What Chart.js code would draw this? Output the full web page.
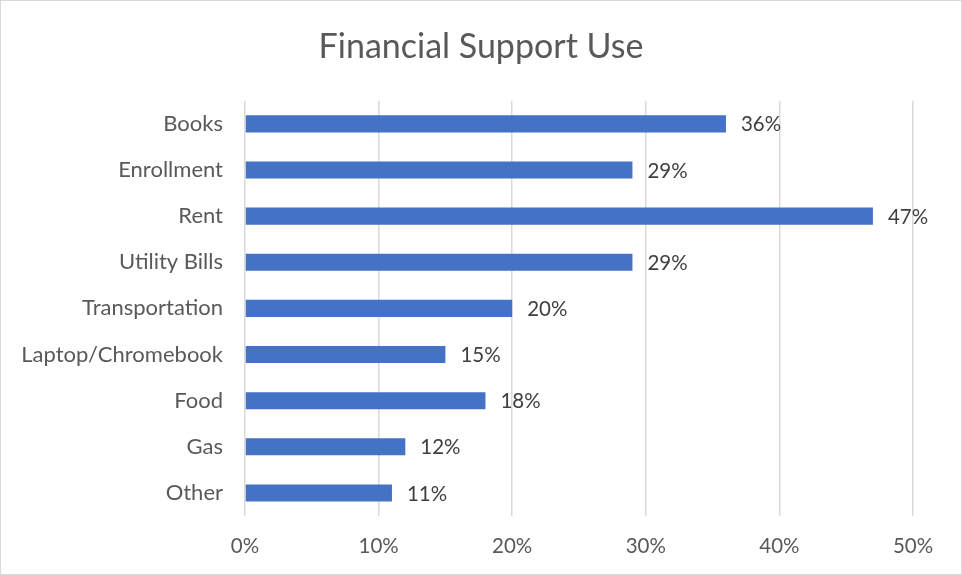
<!DOCTYPE html>
<html>
<head>
<meta charset="utf-8">
<script src="https://cdn.jsdelivr.net/npm/chart.js@4.4.1/dist/chart.umd.min.js"></script>
<style>
    html, body { margin: 0; padding: 0; background: #fff; }
    #wrap { position: relative; width: 962px; height: 575px; box-sizing: border-box; border: 1px solid #d9d9d9; }
</style>
</head>
<body>
<div id="wrap"><canvas id="supportChart"></canvas></div>
<script>
const categories = ["Books", "Enrollment", "Rent", "Utility Bills", "Transportation", "Laptop/Chromebook", "Food", "Gas", "Other"];
const shares = [36, 29, 47, 29, 20, 15, 18, 12, 11];
const xTicks = [0, 10, 20, 30, 40, 50];

const FONT = "Lato, 'Noto Sans', sans-serif";

// labels to the right of each bar
const barLabels = {
    id: "barLabels",
    afterDatasetsDraw(chart) {
        const ctx = chart.ctx;
        const meta = chart.getDatasetMeta(0);
        ctx.save();
        ctx.font = "20.5px " + FONT;
        ctx.fillStyle = "#404040";
        ctx.textBaseline = "middle";
        ctx.textAlign = "left";
        meta.data.forEach((bar, i) => {
            ctx.fillText(shares[i] + "%", bar.x + 15, bar.y + 1);
        });
        ctx.restore();
    }
};

const ctx = document.getElementById("supportChart").getContext("2d");

new Chart(ctx, {
    type: "bar",
    data: {
        labels: categories,
        datasets: [{
            label: "Share",
            data: shares,
            backgroundColor: "#4472C4",
            borderWidth: 0,
            barPercentage: 0.74,
            categoryPercentage: 0.5,
        }]
    },
    options: {
        indexAxis: "y",
        responsive: true,
        maintainAspectRatio: false,
        animation: false,
        layout: { padding: 0 },
        plugins: {
            legend: { display: false },
            tooltip: { enabled: false },
            title: {
                display: true,
                text: "Financial Support Use",
                color: "#595959",
                font: { family: FONT, size: 34, weight: "normal" },
                padding: { top: 26, bottom: 33 },
            },
        },
        scales: {
            x: {
                min: 0,
                max: 50,
                afterBuildTicks: (axis) => { axis.ticks = xTicks.map(v => ({ value: v })); },
                afterFit: (axis) => { axis.height = 58; },
                grid: { color: "#d9d9d9", lineWidth: 1.5, drawTicks: false },
                border: { display: false },
                ticks: {
                    color: "#595959",
                    padding: 18,
                    font: { family: FONT, size: 20.5 },
                    callback: (v) => v + "%",
                },
            },
            y: {
                afterFit: (axis) => { axis.width = 244; },
                grid: { display: false, drawTicks: false },
                border: { display: false },
                ticks: {
                    color: "#595959",
                    padding: 22,
                    font: { family: FONT, size: 22 },
                },
            },
            // empty right-hand axis, only reserves room so the title stays centred on the page
            spacer: {
                axis: "y",
                position: "right",
                afterFit: (axis) => { axis.width = 48; },
                grid: { display: false, drawTicks: false },
                border: { display: false },
                ticks: { display: false },
            },
        },
    },
    plugins: [barLabels],
});
</script>
</body>
</html>
